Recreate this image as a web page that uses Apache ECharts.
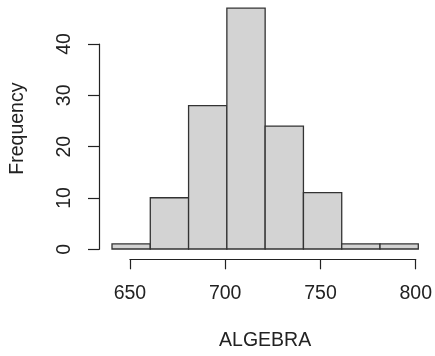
<!DOCTYPE html>
<html>
<head>
<meta charset="utf-8">
<script src="https://cdn.jsdelivr.net/npm/echarts@6/dist/echarts.min.js"></script>
<style>
  html, body { margin: 0; padding: 0; background: #ffffff; }
  #chart { width: 435px; height: 356px; }
</style>
</head>
<body>
<div id="chart"></div>
<script>
// Histogram of ALGEBRA scores: bin edges and counts per bin
const binEdges = [640, 660, 680, 700, 720, 740, 760, 780, 800];
const counts = [1, 10, 28, 47, 24, 11, 1, 1];
const xTicks = [650, 700, 750, 800];
const yTicks = [0, 10, 20, 30, 40];

const bins = counts.map((c, i) => [binEdges[i], binEdges[i + 1], c]);

const FONT = 'Liberation Sans, Arial, sans-serif';
const FS = 19.5;
const INK = '#222';

const hidden = {
  axisLine: { show: false }, axisTick: { show: false },
  axisLabel: { show: false }, splitLine: { show: false }
};

const chart = echarts.init(document.getElementById('chart'));
chart.setOption({
  animation: false,
  backgroundColor: '#ffffff',
  grid: [
    // plotting region for the bars
    { left: 110.7, right: 16.7, top: 8.2, bottom: 106.7 },
    // x axis drawn only over the tick range, set off below the bars
    { left: 129.9, right: 16.7, top: 8.2, bottom: 106.7 },
    // y axis drawn only over the tick range
    { left: 99, width: 10, top: 44, bottom: 106.7 }
  ],
  xAxis: [
    Object.assign({
      gridIndex: 0, type: 'value', min: binEdges[0], max: binEdges[binEdges.length - 1],
      name: 'ALGEBRA', nameLocation: 'middle', nameGap: 82,
      nameTextStyle: { fontFamily: FONT, fontSize: FS, color: INK }
    }, hidden),
    {
      gridIndex: 1, type: 'value', min: xTicks[0], max: xTicks[xTicks.length - 1], interval: 50,
      position: 'bottom', offset: 10,
      axisLine: { show: true, onZero: false, lineStyle: { color: INK, width: 1.2 } },
      axisTick: { show: true, length: 10, lineStyle: { color: INK, width: 1.2 } },
      axisLabel: { margin: 24, fontFamily: FONT, fontSize: FS, color: INK, showMinLabel: true, showMaxLabel: true },
      splitLine: { show: false }
    },
    Object.assign({ gridIndex: 2, type: 'value', min: 0, max: 1 }, hidden)
  ],
  yAxis: [
    Object.assign({
      gridIndex: 0, type: 'value', min: 0, max: 47,
      name: 'Frequency', nameLocation: 'middle', nameGap: 84, nameRotate: 90,
      nameTextStyle: { fontFamily: FONT, fontSize: FS, color: INK }
    }, hidden),
    Object.assign({ gridIndex: 1, type: 'value', min: 0, max: 1 }, hidden),
    {
      gridIndex: 2, type: 'value', min: yTicks[0], max: yTicks[yTicks.length - 1], interval: 10,
      position: 'left',
      axisLine: { show: true, onZero: false, lineStyle: { color: INK, width: 1.2 } },
      axisTick: { show: true, length: 11, lineStyle: { color: INK, width: 1.2 } },
      axisLabel: { rotate: 90, margin: 24, fontFamily: FONT, fontSize: FS, color: INK,
                   align: 'center', verticalAlign: 'bottom' },
      splitLine: { show: false }
    }
  ],
  series: [{
    type: 'custom',
    xAxisIndex: 0, yAxisIndex: 0,
    data: bins,
    encode: { x: [0, 1], y: 2 },
    renderItem: function (params, api) {
      const p0 = api.coord([api.value(0), 0]);
      const p1 = api.coord([api.value(1), api.value(2)]);
      return {
        type: 'rect',
        shape: { x: p0[0], y: p1[1], width: p1[0] - p0[0], height: p0[1] - p1[1] },
        style: { fill: '#d3d3d3', stroke: '#333', lineWidth: 1.3 }
      };
    }
  }]
});
</script>
</body>
</html>
